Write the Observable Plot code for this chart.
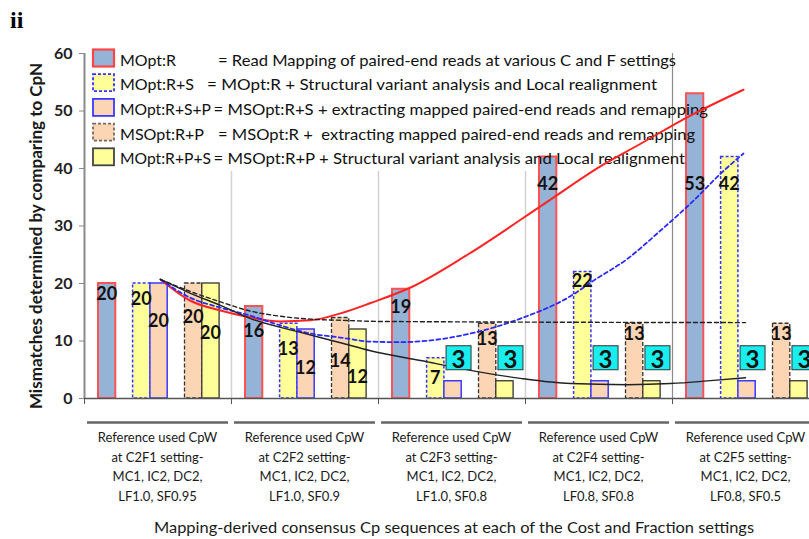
<!DOCTYPE html>
<html>
<head>
<meta charset="utf-8">
<script src="https://cdn.jsdelivr.net/npm/d3@7"></script>
<script src="https://cdn.jsdelivr.net/npm/@observablehq/plot@0.6"></script>
<style>
  html, body { margin: 0; padding: 0; background: #fff; overflow: hidden; }
  #chart { width: 809px; height: 539px; }
</style>
</head>
<body>
<div id="chart"></div>
<script>
// ---- data ---------------------------------------------------------------
// Cost/Fraction settings (one bar group each)
const settingCodes = ["C2F1", "C2F2", "C2F3", "C2F4", "C2F5"];
const settingLF = ["LF1.0", "LF1.0", "LF1.0", "LF0.8", "LF0.8"];
const settingSF = ["SF0.95", "SF0.9", "SF0.8", "SF0.8", "SF0.5"];

// series names and their legend notes
const seriesNames = ["MOpt:R", "MOpt:R+S", "MOpt:R+S+P", "MSOpt:R+P", "MOpt:R+P+S"];
const seriesNotes = [
  "= Read Mapping of paired-end reads at various C and F settings",
  "= MOpt:R + Structural variant analysis and Local realignment",
  "= MSOpt:R+S + extracting mapped paired-end reads and remapping",
  "= MSOpt:R +  extracting mapped paired-end reads and remapping",
  "= MSOpt:R+P + Structural variant analysis and Local realignment"
];

// mismatches against CpN, one value per setting
const mOptR   = [20, 16, 19, 42, 53];
const mOptRS  = [20, 13, 7, 22, 42];
const mOptRSP = [20, 12, 3, 3, 3];
const msOptRP = [20, 14, 13, 13, 13];
const mOptRPS = [20, 12, 3, 3, 3];

const yTicks = [0, 10, 20, 30, 40, 50, 60];

// trend lines: position along the setting axis (group i spans i..i+1) and value
const trendRx   = [0.517, 0.721, 0.925, 1.129, 1.333, 1.537, 1.741, 1.946, 2.218, 2.605, 3.170, 3.531, 3.762, 4.122, 4.483];
const trendRy   = [20.7, 17.0, 15.3, 14.1, 13.4, 13.6, 14.8, 16.6, 19.3, 25.0, 34.6, 40.7, 44.0, 49.2, 53.7];
const trendRSx  = [0.517, 0.721, 0.925, 1.129, 1.333, 1.537, 1.741, 1.946, 2.150, 2.354, 2.626, 2.966, 3.306, 3.463, 3.694, 3.918, 4.143, 4.327, 4.483];
const trendRSy  = [20.7, 17.5, 15.8, 14.4, 12.7, 11.3, 10.6, 9.9, 9.8, 10.1, 11.3, 13.9, 17.8, 20.5, 24.3, 29.2, 34.4, 39.1, 42.6];
const trendRPx  = [0.517, 0.721, 0.925, 1.129, 1.333, 1.537, 1.741, 2.014, 4.497];
const trendRPy  = [20.7, 18.6, 16.8, 15.2, 14.3, 13.8, 13.6, 13.4, 13.2];
const trendRPSx = [0.517, 0.721, 0.925, 1.129, 1.469, 1.741, 1.946, 2.286, 2.626, 2.966, 3.306, 3.694, 3.986, 4.259, 4.497];
const trendRPSy = [20.7, 18.3, 16.2, 13.9, 11.5, 9.7, 8.3, 6.6, 4.9, 3.5, 2.6, 2.4, 2.6, 3.1, 3.6];

// ---- layout & style -------------------------------------------------------
const FONT = "Lato, 'Open Sans', 'DejaVu Sans', sans-serif";
const PAD = 0.0952;      // gap before first bar slot inside a group
const SLOT = 0.1177;     // width of one bar slot (7 slots per group)

// value label offset below each bar top (px); small bars get a boxed label instead
const labelDrop = [
  [10, 24, 17, 26, 90],
  [15, 25, 19, 8, 26],
  [37, 38, 0, 0, 0],
  [33, 42, 15, 10, 10],
  [49, 47, 0, 0, 0]
];

const seriesStyle = [
  {slot: 0, fill: "#95b3d7", stroke: "#ff5252", dash: null, width: 2},
  {slot: 2, fill: "#ffff99", stroke: "#3434ff", dash: "3,2", width: 1.5},
  {slot: 3, fill: "#fcd5b5", stroke: "#3a3aff", dash: null, width: 1.5},
  {slot: 5, fill: "#fcd5b5", stroke: "#333333", dash: "4,2", width: 1.3},
  {slot: 6, fill: "#ffff99", stroke: "#333333", dash: null, width: 1.3}
];
const legendSwatchStroke = ["#ff4545", "#3434ff", "#3a3aff", "#7a6a5c", "#444444"];

const seriesValues = [mOptR, mOptRS, mOptRSP, msOptRP, mOptRPS];

const bars = seriesValues.flatMap((vals, si) => vals.map((v, g) => {
  const x1 = g + PAD + seriesStyle[si].slot * SLOT;
  return {g, si, v, x1, x2: x1 + SLOT, xc: x1 + SLOT / 2, drop: labelDrop[si][g], boxed: v <= 3};
}));

const trends = [
  {xs: trendRx, ys: trendRy, stroke: "#ff2424", dash: null, width: 2},
  {xs: trendRSx, ys: trendRSy, stroke: "#2a2aff", dash: "4,3", width: 1.8},
  {xs: trendRPx, ys: trendRPy, stroke: "#222", dash: "4,3", width: 1.4},
  {xs: trendRPSx, ys: trendRPSy, stroke: "#222", dash: null, width: 1.4}
].map(t => ({...t, pts: t.xs.map((x, i) => ({x, y: t.ys[i]}))}));

const groupLines = settingCodes.map((c, i) => [
  "Reference used CpW", `at ${c} setting-`, "MC1, IC2, DC2,", `${settingLF[i]}, ${settingSF[i]}`
]);

const boundaries = [1, 2, 3];

// ---- custom layers --------------------------------------------------------
function legendBackground() {
  const g = d3.create("svg:g");
  g.append("rect").attr("x", 88).attr("y", 44).attr("width", 578).attr("height", 127).attr("fill", "#fff");
  return g.node();
}

function legend() {
  const g = d3.create("svg:g").attr("font-family", FONT).attr("font-size", 16).attr("fill", "#111")
    .attr("text-anchor", "start");
  const nameEnd = [176, 194, 211, 204, 211];
  const noteX = [218, 207, 213.5, 218, 213.5];
  const noteEnd = [676, 657, 708, 695, 685];
  seriesNames.forEach((name, i) => {
    const cy = 58 + 24.7 * i;
    const s = seriesStyle[i];
    g.append("rect").attr("x", 93).attr("y", cy - 8.5).attr("width", 21).attr("height", 17)
      .attr("fill", s.fill).attr("stroke", legendSwatchStroke[i]).attr("stroke-width", i === 0 ? 2.2 : 1.8)
      .attr("stroke-dasharray", s.dash ? "3,2" : null);
    g.append("text").attr("x", 120).attr("y", cy + 1).attr("dominant-baseline", "central")
      .attr("text-anchor", "start")
      .attr("textLength", nameEnd[i] - 120).attr("lengthAdjust", "spacingAndGlyphs")
      .text(name);
    g.append("text").attr("x", noteX[i]).attr("y", cy + 1).attr("dominant-baseline", "central")
      .attr("text-anchor", "start")
      .attr("textLength", noteEnd[i] - noteX[i]).attr("lengthAdjust", "spacingAndGlyphs")
      .text(seriesNotes[i]);
  });
  return g.node();
}

function valueLabels(index, scales) {
  const g = d3.create("svg:g").attr("font-family", FONT).attr("text-anchor", "middle").attr("fill", "#111");
  for (const b of bars) {
    const cx = scales.x(b.xc), top = scales.y(b.v);
    if (b.boxed) {
      const bx = cx + 6, by = top - 23;
      g.append("rect").attr("x", bx - 12.5).attr("y", by - 12).attr("width", 25).attr("height", 24)
        .attr("fill", "#19eeee").attr("stroke", "#333").attr("stroke-width", 1);
      g.append("text").attr("x", bx).attr("y", by + 1).attr("dominant-baseline", "central")
        .attr("font-size", 24).attr("font-weight", "bold").text(b.v);
    } else {
      g.append("text").attr("x", cx).attr("y", top + b.drop).attr("dominant-baseline", "central")
        .attr("font-size", 18).attr("font-weight", "bold").text(b.v);
    }
  }
  return g.node();
}

function decorations(index, scales) {
  const g = d3.create("svg:g").attr("font-family", FONT).attr("fill", "#1a1a1a");
  settingCodes.forEach((c, i) => {
    g.append("line").attr("x1", scales.x(i) + 3).attr("x2", scales.x(i + 1) - 3)
      .attr("y1", 422.5).attr("y2", 422.5).attr("stroke", "#666").attr("stroke-width", 2.5);
    const t = g.append("text").attr("x", scales.x(i + 0.5)).attr("text-anchor", "middle").attr("font-size", 13);
    groupLines[i].forEach((line, k) => {
      t.append("tspan").attr("x", scales.x(i + 0.5)).attr("y", 442 + 19.6 * k).text(line);
    });
  });
  g.append("text").attr("x", 454).attr("y", 533).attr("text-anchor", "middle").attr("font-size", 16)
    .attr("textLength", 600).attr("lengthAdjust", "spacingAndGlyphs")
    .text("Mapping-derived consensus Cp sequences at each of the Cost and Fraction settings");
  g.append("text").attr("transform", "translate(35,236) rotate(-90)").attr("text-anchor", "middle")
    .attr("dominant-baseline", "central").attr("font-size", 17).attr("font-weight", "bold")
    .text("Mismatches determined by comparing to CpN");
  g.append("text").attr("x", 10).attr("y", 28).attr("text-anchor", "start")
    .attr("font-family", "'Liberation Serif', 'DejaVu Serif', serif")
    .attr("font-size", 24).attr("font-weight", "bold").attr("fill", "#000").text("ii");
  return g.node();
}

// ---- chart ------------------------------------------------------------------
const chart = Plot.plot({
  width: 809,
  height: 539,
  marginLeft: 84,
  marginRight: 0,
  marginTop: 53,
  marginBottom: 141,
  style: {fontFamily: FONT, background: "#fff", overflow: "hidden"},
  x: {type: "linear", domain: [0, 5], range: [84, 819], axis: null},
  y: {domain: [0, 60], range: [398, 53], axis: null},
  marks: [
    Plot.ruleX(boundaries, {x: d => d, y1: 0, y2: 60, stroke: "#d2d2d2", strokeWidth: 1.5}),
    Plot.ruleX([4], {x: d => d, y1: 0, y2: 60, stroke: "#8c8c8c", strokeWidth: 1.2}),
    legendBackground,
    Plot.ruleX([0], {x: d => d, y1: 0, y2: 60, stroke: "#8a8a8a", strokeWidth: 2}),
    ...seriesStyle.map((s, si) => Plot.rectY(bars.filter(b => b.si === si), {
      x1: "x1", x2: "x2", y1: 0, y2: "v",
      fill: s.fill, stroke: s.stroke, strokeWidth: s.width, strokeDasharray: s.dash
    })),
    legend,
    ...trends.map(t => Plot.line(t.pts, {
      x: "x", y: "y", curve: "monotone-x",
      stroke: t.stroke, strokeWidth: t.width, strokeDasharray: t.dash
    })),
    Plot.ruleY([0], {y: d => d, x1: 0, x2: 5, stroke: "#555", strokeWidth: 1.6}),
    Plot.axisX([0, 1, 2, 3, 4], {tickSize: 6, tickFormat: () => "", label: null, stroke: "#555"}),
    Plot.axisY(yTicks, {tickSize: 5, tickPadding: 7, label: null, fontSize: 16, fontWeight: "bold",
      stroke: "#888", fill: "#222"}),
    valueLabels,
    decorations
  ]
});

document.getElementById("chart").appendChild(chart);
</script>
</body>
</html>
